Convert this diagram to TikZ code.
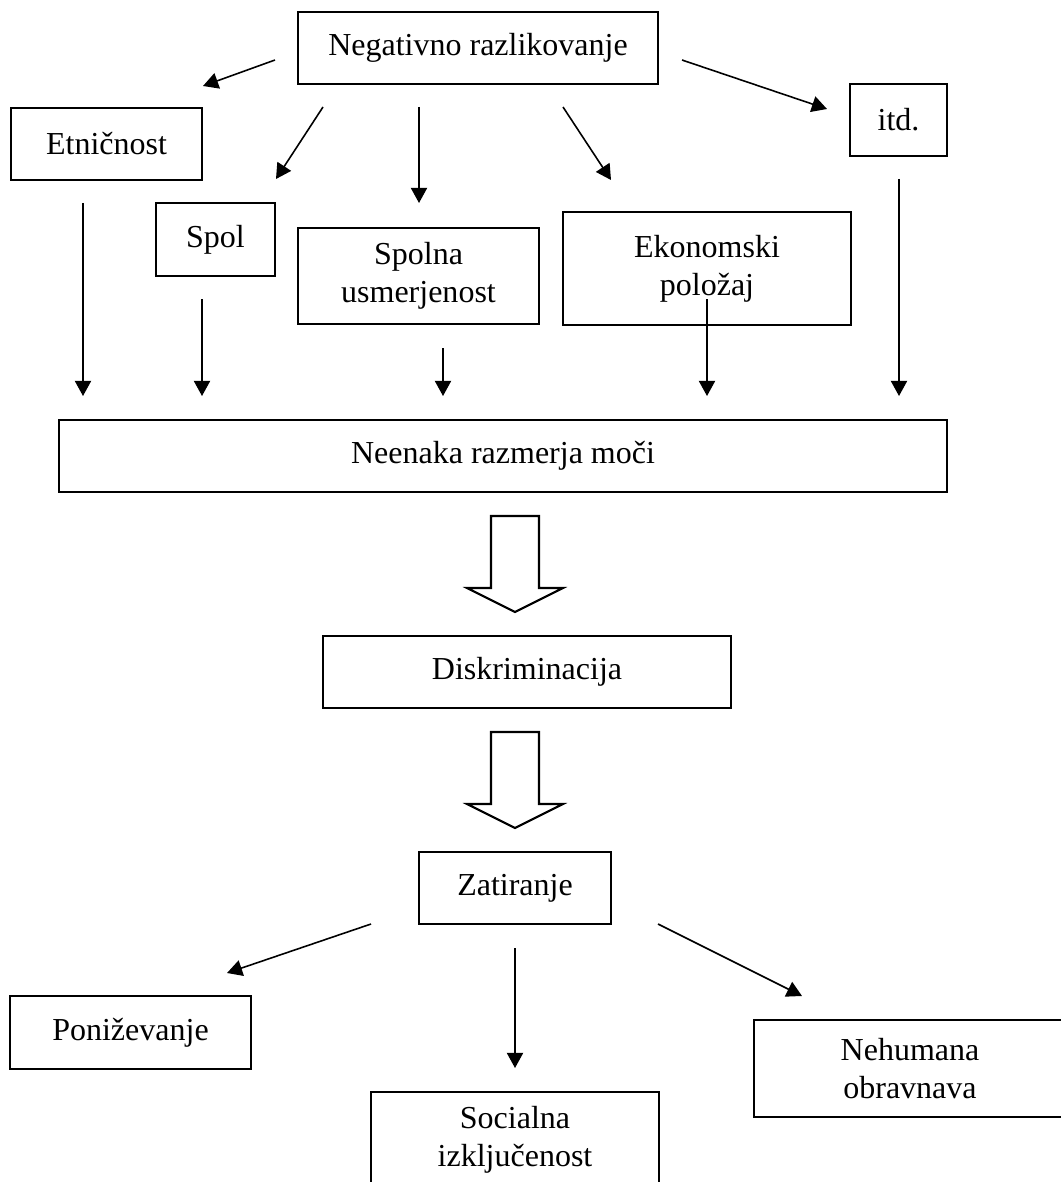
\documentclass[tikz,border=0pt]{standalone}
\usepackage{fontspec}
\setmainfont{Liberation Serif}
\usetikzlibrary{arrows.meta}

\begin{document}
\begin{tikzpicture}[x=0.01cm, y=-0.01cm,
    box/.style={draw, line width=0.6pt, inner sep=0pt, align=center,
      font=\fontsize{9.1}{10.8}\selectfont},
    arr/.style={line width=0.45pt, -{Triangle[length=4.3pt, width=4.6pt]}},
    hollow/.style={draw, line width=0.6pt, fill=white}]
  \useasboundingbox (0,0) rectangle (1061,1182);
  \clip (0,0) rectangle (1061,1182);

  % top level
  \node[box, minimum width=3.6cm, minimum height=0.72cm] (neg) at (478,48) {Negativno razlikovanje};
  \node[box, minimum width=1.91cm, minimum height=0.72cm] (etn) at (106.5,144) {Etničnost};
  \node[box, minimum width=0.97cm, minimum height=0.72cm] (itd) at (898.5,120) {itd.};
  \node[box, minimum width=1.19cm, minimum height=0.73cm] (spol) at (215.5,239.5) {Spol};
  \node[box, minimum width=2.41cm, minimum height=0.96cm] (usm) at (418.5,276) {Spolna\\usmerjenost};
  \node[box, minimum width=2.88cm, minimum height=1.13cm] (eko) at (707,268.5) {Ekonomski\\položaj};

  % middle
  \node[box, minimum width=8.88cm, minimum height=0.72cm] (moc) at (503,456) {Neenaka razmerja moči};
  \node[box, minimum width=4.08cm, minimum height=0.72cm] (disk) at (527,672) {Diskriminacija};
  \node[box, minimum width=1.92cm, minimum height=0.72cm] (zat) at (515,888) {Zatiranje};

  % bottom
  \node[box, minimum width=2.41cm, minimum height=0.73cm] (pon) at (130.5,1032.5) {Poniževanje};
  \node[box, minimum width=2.88cm, minimum height=0.96cm] (soc) at (515,1140) {Socialna\\izključenost};
  \node[box, minimum width=3.12cm, minimum height=0.97cm] (neh) at (910,1068.5) {Nehumana\\obravnava};

  % arrow ends
  \coordinate (a1) at (275,60);   \coordinate (b1) at (203,86);
  \coordinate (a2) at (323,107);  \coordinate (b2) at (276,179);
  \coordinate (a3) at (419,107);  \coordinate (b3) at (419,203);
  \coordinate (a4) at (563,107);  \coordinate (b4) at (611,180);
  \coordinate (a5) at (682,60);   \coordinate (b5) at (827,109);
  \coordinate (a6) at (83,203);   \coordinate (b6) at (83,396);
  \coordinate (a7) at (202,299);  \coordinate (b7) at (202,396);
  \coordinate (a8) at (443,348);  \coordinate (b8) at (443,396);
  \coordinate (a9) at (707,299);  \coordinate (b9) at (707,396);
  \coordinate (a10) at (899,179); \coordinate (b10) at (899,396);
  \coordinate (a11) at (371,924); \coordinate (b11) at (227,973);
  \coordinate (a12) at (515,948); \coordinate (b12) at (515,1068);
  \coordinate (a13) at (658,924); \coordinate (b13) at (802,996);

  \foreach \i in {1,...,13}
    \draw[arr] (a\i) -- (b\i);

  % block arrows
  \foreach \t in {516,732}
    \draw[hollow] (491,\t) -- (539,\t) -- (539,\t+72) -- (563,\t+72)
      -- (515,\t+96) -- (467,\t+72) -- (491,\t+72) -- cycle;
\end{tikzpicture}
\end{document}
